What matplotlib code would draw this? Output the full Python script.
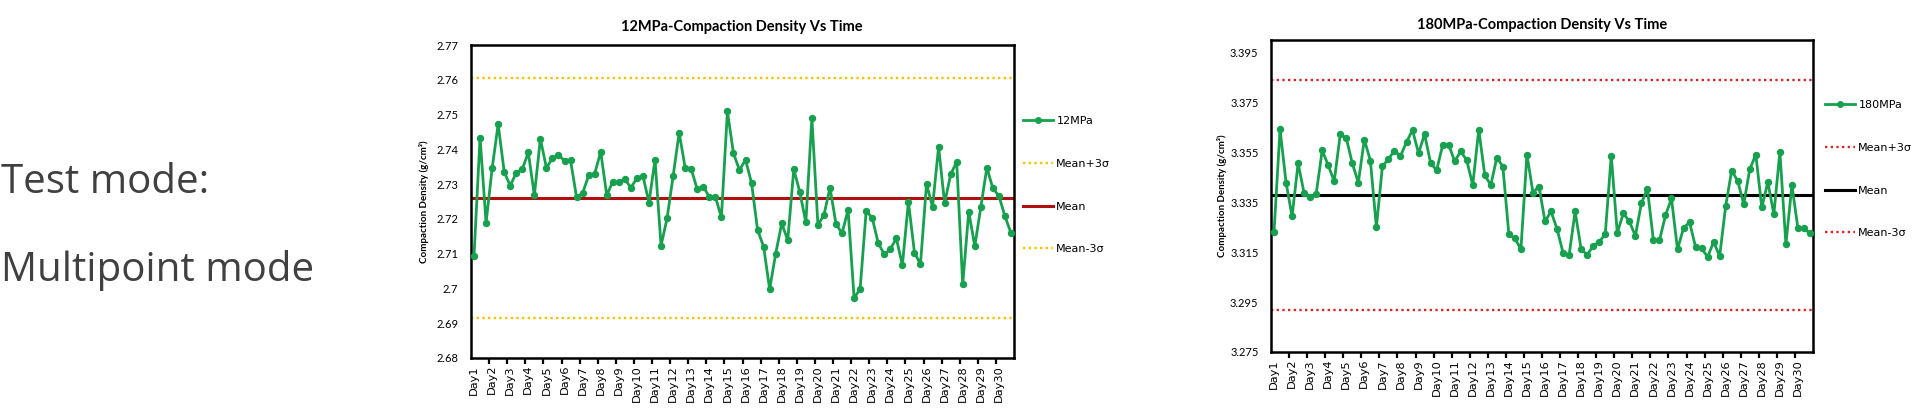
import matplotlib
matplotlib.use("Agg")
import matplotlib.pyplot as plt
from matplotlib.ticker import FixedLocator, FixedFormatter, FuncFormatter

# ---------------- data ----------------
days = ["Day1", "Day2", "Day3", "Day4", "Day5", "Day6", "Day7", "Day8", "Day9", "Day10",
        "Day11", "Day12", "Day13", "Day14", "Day15", "Day16", "Day17", "Day18", "Day19", "Day20",
        "Day21", "Day22", "Day23", "Day24", "Day25", "Day26", "Day27", "Day28", "Day29", "Day30"]
points_per_day = 3

density_12mpa = [
    2.7094, 2.7434, 2.7189, 2.7345, 2.7472, 2.7336, 2.7295, 2.7333, 2.7343, 2.7391,
    2.7268, 2.7430, 2.7347, 2.7374, 2.7384, 2.7367, 2.7368, 2.7262, 2.7274, 2.7325,
    2.7330, 2.7393, 2.7268, 2.7307, 2.7305, 2.7314, 2.7290, 2.7317, 2.7323, 2.7247,
    2.7370, 2.7123, 2.7202, 2.7323, 2.7448, 2.7347, 2.7343, 2.7285, 2.7293, 2.7263,
    2.7264, 2.7204, 2.7509, 2.7389, 2.7340, 2.7370, 2.7303, 2.7168, 2.7120, 2.6998,
    2.7100, 2.7187, 2.7139, 2.7343, 2.7277, 2.7190, 2.7490, 2.7182, 2.7211, 2.7290,
    2.7185, 2.7159, 2.7226, 2.6972, 2.6999, 2.7223, 2.7203, 2.7130, 2.7098, 2.7113,
    2.7144, 2.7067, 2.7249, 2.7103, 2.7070, 2.7300, 2.7235, 2.7407, 2.7245, 2.7328,
    2.7364, 2.7012, 2.7221, 2.7121, 2.7234, 2.7347, 2.7288, 2.7266, 2.7208, 2.7159]
mean_12, ucl_12, lcl_12 = 2.7259, 2.7605, 2.6914
yticks_12 = [2.68, 2.69, 2.70, 2.71, 2.72, 2.73, 2.74, 2.75, 2.76, 2.77]
ylim_12 = (2.68, 2.77)

density_180mpa = [
    3.3230, 3.3642, 3.3429, 3.3293, 3.3506, 3.3386, 3.3370, 3.3383, 3.3558, 3.3498,
    3.3434, 3.3622, 3.3607, 3.3506, 3.3429, 3.3601, 3.3517, 3.3250, 3.3494, 3.3523,
    3.3557, 3.3535, 3.3591, 3.3639, 3.3546, 3.3623, 3.3507, 3.3478, 3.3578, 3.3581,
    3.3514, 3.3554, 3.3518, 3.3419, 3.3641, 3.3458, 3.3419, 3.3529, 3.3493, 3.3221,
    3.3205, 3.3162, 3.3541, 3.3389, 3.3413, 3.3273, 3.3313, 3.3243, 3.3147, 3.3138,
    3.3313, 3.3162, 3.3139, 3.3175, 3.3191, 3.3222, 3.3537, 3.3227, 3.3305, 3.3274,
    3.3215, 3.3345, 3.3405, 3.3197, 3.3197, 3.3297, 3.3365, 3.3161, 3.3246, 3.3270,
    3.3171, 3.3165, 3.3131, 3.3191, 3.3134, 3.3335, 3.3477, 3.3435, 3.3343, 3.3482,
    3.3541, 3.3329, 3.3431, 3.3302, 3.3551, 3.3182, 3.3418, 3.3245, 3.3245, 3.3225]
mean_180, ucl_180, lcl_180 = 3.3378, 3.3841, 3.2918
yticks_180 = [3.275, 3.295, 3.315, 3.335, 3.355, 3.375, 3.395]
ylim_180 = (3.275, 3.400)

# ---------------- figure ----------------
W, H = 1914, 413
fig = plt.figure(figsize=(W / 100, H / 100), dpi=100)
fig.patch.set_facecolor("white")


def px_axes(l, t, r, b):
    return fig.add_axes([l / W, 1 - b / H, (r - l) / W, (b - t) / H])


GREEN = "#17A04E"
DOT = (0, (1.0, 1.4))


def draw_chart(ax, vals, mean, ucl, lcl, band_color, mean_color, ylim, yticks,
               title, title_xy, name, leg_anchor, ylabel_x):
    x = list(range(len(vals)))
    ax.plot(x, vals, color=GREEN, lw=2.0, marker="o", ms=4.3, label=name, zorder=3)
    ax.axhline(ucl, color=band_color, lw=1.7, ls=DOT, label="Mean+3σ", zorder=2)
    ax.axhline(mean, color=mean_color, lw=2.2, label="Mean", zorder=2)
    ax.axhline(lcl, color=band_color, lw=1.7, ls=DOT, label="Mean-3σ", zorder=2)

    ax.set_xlim(-0.5, len(vals) - 0.5)
    ax.set_ylim(*ylim)

    # category labels (every 3rd point) and tick marks between groups
    label_pos = [i * points_per_day for i in range(len(days))]
    ax.xaxis.set_major_locator(FixedLocator(label_pos))
    ax.xaxis.set_major_formatter(FixedFormatter(days))
    tick_pos = [i * points_per_day - 0.5 for i in range(1, len(days))]
    ax.xaxis.set_minor_locator(FixedLocator(tick_pos))
    ax.tick_params(axis="x", which="major", length=0, pad=5, labelrotation=90,
                   labelsize=8.2, labelfontfamily="DejaVu Sans")
    ax.tick_params(axis="x", which="minor", length=4, width=1.6, direction="out", color="black")
    for lab in ax.get_xticklabels():
        lab.set_verticalalignment("top")
        lab.set_horizontalalignment("center")

    ax.yaxis.set_major_locator(FixedLocator(yticks))
    ax.yaxis.set_major_formatter(FuncFormatter(lambda v, p: "%g" % round(v, 4)))
    ax.tick_params(axis="y", length=0, pad=9, labelsize=8, labelfontfamily="Lato")

    for s in ax.spines.values():
        s.set_linewidth(1.8)
        s.set_color("black")

    ax.set_ylabel("Compaction Density (g/cm³)", fontsize=7, fontweight="bold",
                  fontfamily="Lato")
    ax.yaxis.set_label_coords(ylabel_x, 0.5)

    fig.text(title_xy[0] / W, 1 - title_xy[1] / H, title, ha="center", va="center",
             fontsize=10.5, fontweight="bold", fontfamily="Lato")

    leg = ax.legend(loc="upper left", bbox_to_anchor=(leg_anchor[0] / W, 1 - leg_anchor[1] / H),
                    bbox_transform=fig.transFigure, frameon=False, borderpad=0,
                    borderaxespad=0, handlelength=2.7, handletextpad=0.3,
                    labelspacing=2.95, numpoints=1, prop={"family": "DejaVu Sans", "size": 8})
    for h in leg.get_lines():
        h.set_markersize(4)


ax1 = px_axes(471, 45, 1014, 358)
draw_chart(ax1, density_12mpa, mean_12, ucl_12, lcl_12, "#F2C500", "#B01010",
           ylim_12, yticks_12, "12MPa-Compaction Density Vs Time", (742, 27), "12MPa",
           (1023, 116), -0.077)

ax2 = px_axes(1271, 40, 1813, 352)
draw_chart(ax2, density_180mpa, mean_180, ucl_180, lcl_180, "#D42A2A", "black",
           ylim_180, yticks_180, "180MPa-Compaction Density Vs Time", (1542, 25), "180MPa",
           (1825, 100), -0.082)

# side text
fig.text(1 / W, 1 - 193 / H, "Test mode:", fontsize=29, color="#404040",
         fontfamily="Open Sans", ha="left", va="baseline")
fig.text(1 / W, 1 - 281 / H, "Multipoint mode", fontsize=29, color="#404040",
         fontfamily="Open Sans", ha="left", va="baseline")

fig.savefig("out.png", dpi=100, facecolor="white")
